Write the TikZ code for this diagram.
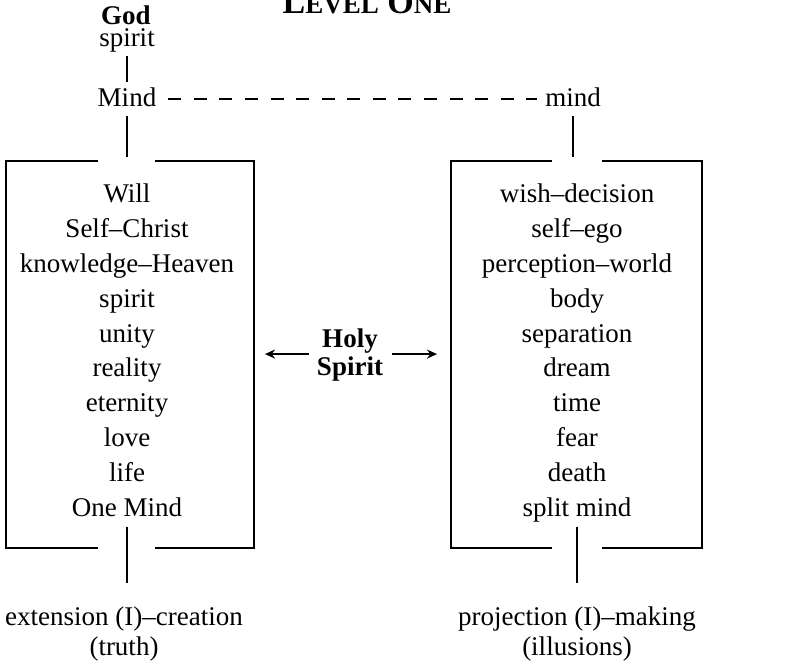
\documentclass[tikz,border=0pt]{standalone}
\usepackage{fontspec}
\setmainfont{Liberation Serif}
\usetikzlibrary{arrows.meta}

\begin{document}
\begin{tikzpicture}[x=0.5pt, y=-0.5pt,
		every node/.style={inner sep=0pt, outer sep=0pt, font=\fontsize{13.5}{17.4}\selectfont},
		frame/.style={line width=0.65pt},
		link/.style={line width=0.65pt},
		dashlink/.style={line width=1pt, dash pattern=on 6.5pt off 6.29pt},
		sidearrow/.style={line width=0.8pt, -{Stealth[length=5pt, width=4.5pt]}},
		list/.style={align=center, anchor=north},
		bold/.style={font=\bfseries\fontsize{13.5}{14}\selectfont}]
		%%%%% START %%%%%
		\useasboundingbox (0,0) rectangle (810,671);
		
		\node[anchor=base, font=\bfseries\fontsize{17}{20}\selectfont] (title) at (367,13) {L{\fontsize{13.5}{16}\selectfont EVEL} O{\fontsize{13.5}{16}\selectfont NE}};
		
		\node[anchor=base, bold] (god) at (126,24) {God};
		\node[anchor=base] (spirit) at (127,46) {\strut spirit};
		\node[anchor=base] (Mind) at (127,106) {\strut Mind};
		\node[anchor=base] (mind) at (573,106) {\strut mind};
		
		\draw[link] (spirit) -- (Mind);
		\draw[dashlink, shorten <=6pt, shorten >=4pt] (Mind) -- (mind);
		
		\coordinate (ltop) at (127,157);
		\coordinate (rtop) at (573,157);
		\draw[link] (Mind) -- (ltop);
		\draw[link] (mind) -- (rtop);
		
		% left box
		\draw[frame] (98,161) -- (6,161) -- (6,548) -- (98,548);
		\draw[frame] (155,161) -- (254,161) -- (254,548) -- (155,548);
		\node[list] (llist) at (127,178.6) {\strut Will\\Self–Christ\\knowledge–Heaven\\spirit\\unity\\reality\\eternity\\love\\life\\One Mind\strut};
		
		% right box
		\draw[frame] (552,161) -- (451,161) -- (451,548) -- (552,548);
		\draw[frame] (602,161) -- (702,161) -- (702,548) -- (602,548);
		\node[list] (rlist) at (577,178.6) {\strut wish–decision\\self–ego\\perception–world\\body\\separation\\dream\\time\\fear\\death\\split mind\strut};
		
		\node[list, bold] (hs) at (350,327.4) {\strut Holy\\Spirit};
		\coordinate (hsl) at (265,354);
		\coordinate (hsr) at (437,354);
		\draw[sidearrow, shorten <=4pt] (hs) -- (hs -| hsl);
		\draw[sidearrow, shorten <=4.5pt] (hs) -- (hs -| hsr);
		
		\coordinate (lbot) at (127,583);
		\coordinate (rbot) at (577,583);
		\draw[link] (llist) -- (lbot);
		\draw[link] (rlist) -- (rbot);
		
		\node[list, font=\fontsize{13.5}{15}\selectfont] (lout) at (124,604) {\strut extension (I)–creation\\(truth)};
		\node[list, font=\fontsize{13.5}{15}\selectfont] (rout) at (577,604) {\strut projection (I)–making\\(illusions)};
		%%%%% END %%%%%
	\end{tikzpicture}
\end{document}
